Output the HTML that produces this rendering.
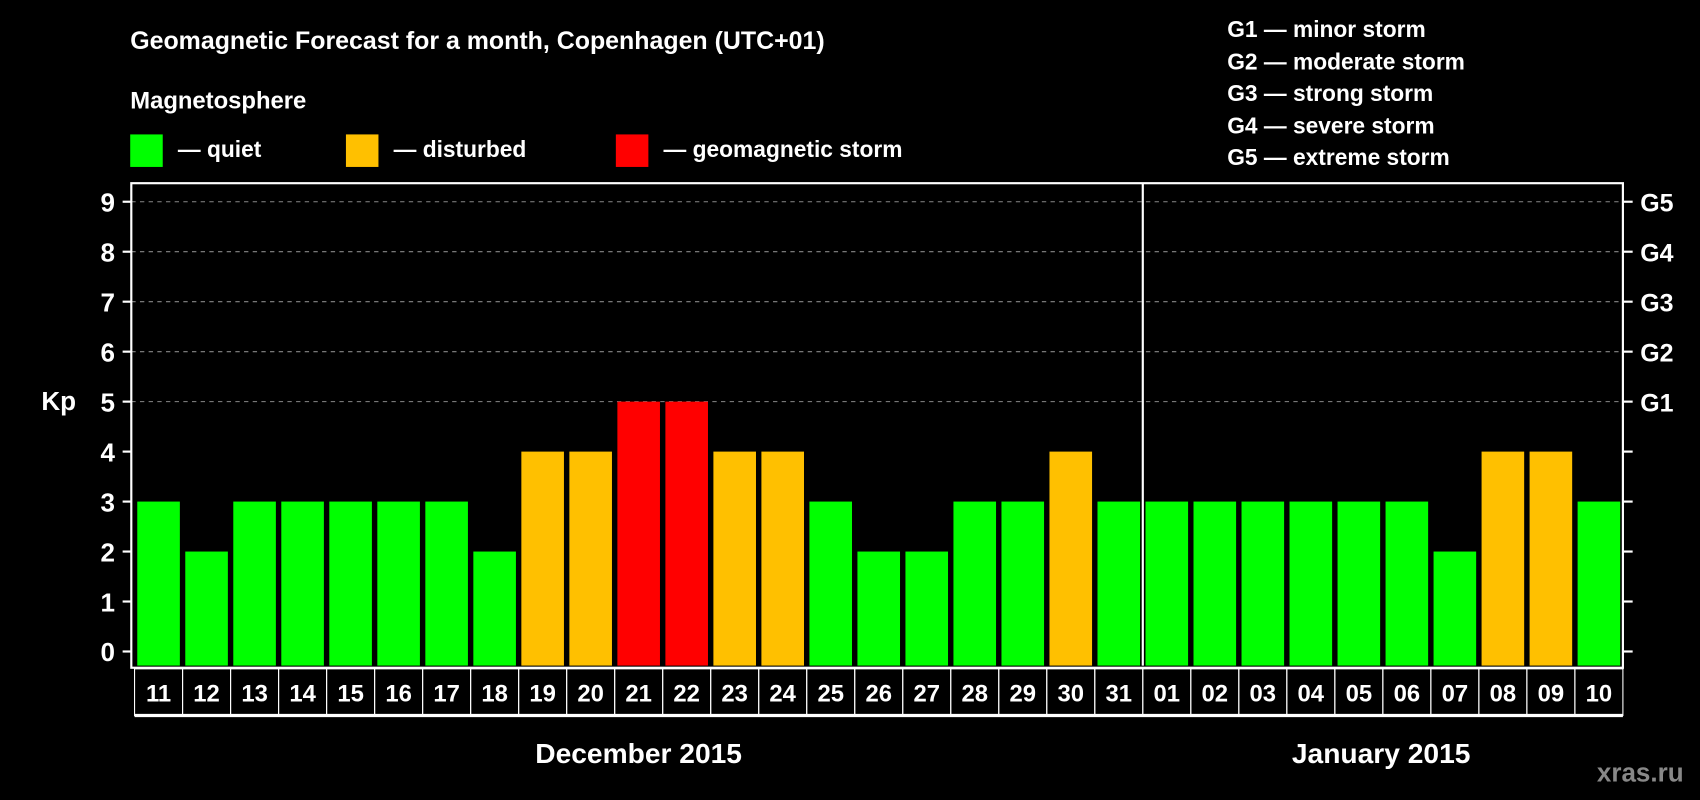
<!DOCTYPE html>
<html><head><meta charset="utf-8"><style>html,body{margin:0;background:#000;overflow:hidden}svg{display:block}text{font-family:"Liberation Sans",sans-serif;font-weight:bold;fill:#fff}</style></head>
<body>
<svg id="chart" width="1700" height="800" viewBox="0 0 1568 738" xmlns="http://www.w3.org/2000/svg">
<rect width="1568" height="738" fill="#000"/>
<text x="120" y="45" font-size="23">Geomagnetic Forecast for a month, Copenhagen (UTC+01)</text>
<text x="120" y="100" font-size="22">Magnetosphere</text>
<g><rect x="120" y="124" width="30" height="30" fill="#00ff00"/><text x="164" y="145" font-size="21">— quiet</text></g>
<g><rect x="319" y="124" width="30" height="30" fill="#ffc000"/><text x="363" y="145" font-size="21">— disturbed</text></g>
<g><rect x="568" y="124" width="30" height="30" fill="#ff0000"/><text x="612" y="145" font-size="21">— geomagnetic storm</text></g>
<g font-size="21">
<text x="1132" y="34">G1 — minor storm</text><text x="1132" y="64">G2 — moderate storm</text><text x="1132" y="93">G3 — strong storm</text><text x="1132" y="123">G4 — severe storm</text><text x="1132" y="152">G5 — extreme storm</text></g>
<text x="38" y="378" font-size="24">Kp</text>
<g id="plot"></g>
<text x="589" y="704" font-size="26" text-anchor="middle">December 2015</text>
<text x="1274" y="704" font-size="26" text-anchor="middle">January 2015</text>
<text x="1473" y="721" font-size="24" style="fill:#888">xras.ru</text>
</svg>
<script>
const days=["11","12","13","14","15","16","17","18","19","20","21","22","23","24","25","26","27","28","29","30","31","01","02","03","04","05","06","07","08","09","10"];
const kp=[3,2,3,3,3,3,3,2,4,4,5,5,4,4,3,2,2,3,3,4,3,3,3,3,3,3,3,2,4,4,3];
const yTicks=[0,1,2,3,4,5,6,7,8,9];
const gLabels=["","","","","","G1","G2","G3","G4","G5"];
const NS="http://www.w3.org/2000/svg";
const g=document.getElementById('plot');
const L=121,R=1497,T=169,B=614,x0=124,slot=(1497-124)/31;
const y=v=>601-v*46.1;
const col=v=>v>=5?"#ff0000":v>=4?"#ffc000":"#00ff00";
function mk(t,a){const e=document.createElementNS(NS,t);for(const k in a)e.setAttribute(k,a[k]);g.appendChild(e);return e;}
yTicks.forEach((v,i)=>{
 if(v>=5){const l=mk('line',{x1:L,x2:R,y1:y(v),y2:y(v),stroke:'#888','stroke-dasharray':'4,4'});
 
 }
 const t1=mk('line',{x1:113,x2:L,y1:y(v),y2:y(v),stroke:'#fff','stroke-width':2});
 
 
 const t2=mk('line',{x1:R,x2:1506,y1:y(v),y2:y(v),stroke:'#fff','stroke-width':2});
 
 
 const tl=mk('text',{x:106,y:y(v)+9,'font-size':24,'text-anchor':'end'});tl.textContent=v;
 
 
 if(gLabels[i]){const gl=mk('text',{x:1513,y:y(v)+9,'font-size':23});gl.textContent=gLabels[i];
 
 }
});
kp.forEach((v,i)=>{
 const bx=x0+i*slot;
 const b=mk('rect',{x:bx+2.5,y:y(v),width:slot-5,height:B-y(v),fill:col(v)});
 
 
 const c=mk('rect',{x:bx,y:617,width:slot,height:43,fill:'none',stroke:'#fff','stroke-width':1});
 
 
 const t=mk('text',{x:bx+slot/2,y:647,'font-size':22,'text-anchor':'middle'});t.textContent=days[i];
 
 
});
const bl=mk('line',{x1:x0,x2:x0+31*slot,y1:660,y2:660,stroke:'#fff','stroke-width':3});


const fr=mk('rect',{x:L,y:T,width:R-L,height:B-T+2,fill:'none',stroke:'#fff','stroke-width':2});


const dv=mk('line',{x1:x0+21*slot,x2:x0+21*slot,y1:T,y2:B,stroke:'#fff','stroke-width':2});


</script>
</body></html>
